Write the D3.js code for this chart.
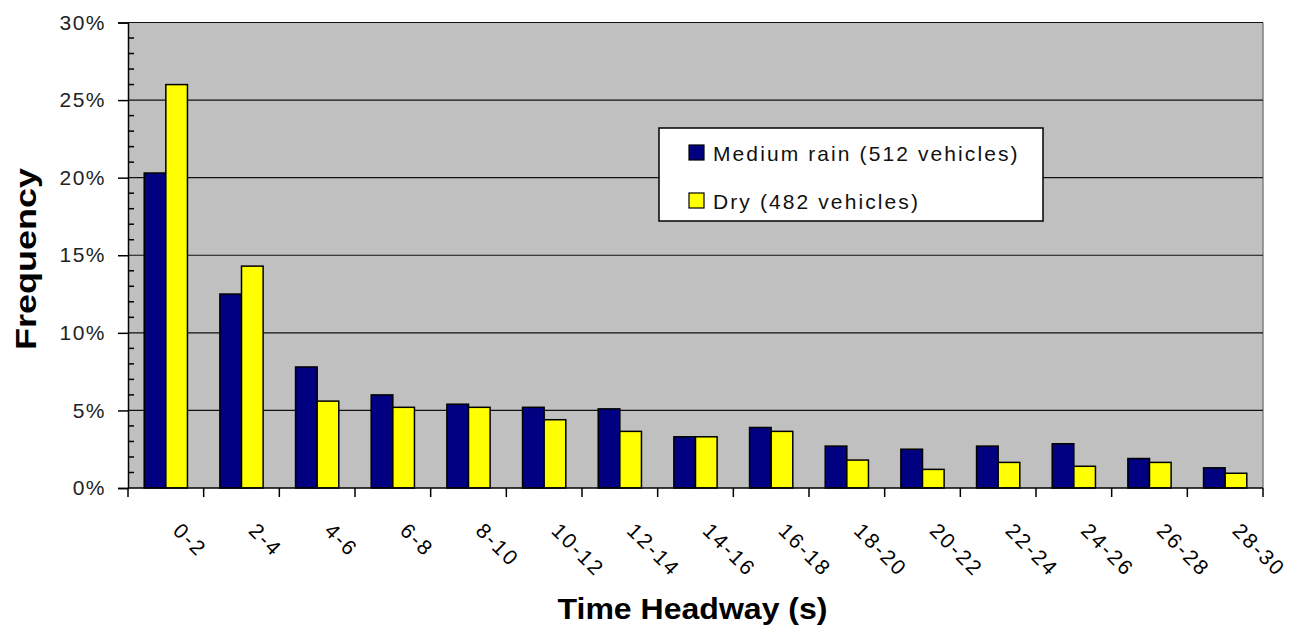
<!DOCTYPE html>
<html lang="en">
<head>
    <meta charset="UTF-8">
    <title>Time Headway Frequency</title>
    <script type="text/javascript" src="https://d3js.org/d3.v7.min.js"></script>
    <style>
        body { margin: 0; background: #fff; }
        text { font-family: "Liberation Sans", Arial, sans-serif; }
    </style>
</head>
<body>

    <svg id="svg" width=1301 height=633></svg>

    <script>
        // data (percent)
        const categories = ["0-2", "2-4", "4-6", "6-8", "8-10", "10-12", "12-14", "14-16",
                            "16-18", "18-20", "20-22", "22-24", "24-26", "26-28", "28-30"];
        const mediumRain = [20.3, 12.5, 7.8, 6.0, 5.4, 5.2, 5.1, 3.3, 3.9, 2.7, 2.5, 2.7, 2.85, 1.9, 1.3];
        const dry        = [26.0, 14.3, 5.6, 5.2, 5.2, 4.4, 3.65, 3.3, 3.65, 1.8, 1.2, 1.65, 1.4, 1.65, 0.95];
        const seriesNames = ["Medium rain (512 vehicles)", "Dry (482 vehicles)"];
        const seriesColors = ["#000080", "#ffff00"];
        const yTicks = [0, 5, 10, 15, 20, 25, 30];

        let svg = d3.select('svg');

        const plotLeft = 128, plotRight = 1263, plotTop = 22.5, plotBottom = 488;

        let x = d3.scaleBand().domain(categories).range([plotLeft, plotRight]);
        let bw = x.bandwidth();
        // gap width 150% of a bar, split on both sides of the pair
        let gap = bw * 0.75 / 3.5;
        let xs = d3.scaleBand().domain([0, 1]).range([gap, bw - gap]);
        let y = d3.scaleLinear().domain([0, 30]).range([plotBottom, plotTop]);

        // plot background
        svg.append('rect')
            .attr('x', plotLeft)
            .attr('y', plotTop)
            .attr('width', plotRight - plotLeft)
            .attr('height', plotBottom - plotTop)
            .attr('fill', '#c0c0c0')
            .attr('stroke', 'none');

        // right border
        svg.append('line')
            .attr('x1', plotRight).attr('x2', plotRight)
            .attr('y1', plotTop).attr('y2', plotBottom)
            .attr('stroke', '#808080')
            .attr('stroke-width', 1.5);

        // gridlines
        svg.append('g')
            .selectAll('line')
            .data(yTicks.filter(d => d > 0))
            .enter()
            .append('line')
            .attr('x1', plotLeft)
            .attr('x2', plotRight)
            .attr('y1', d => y(d))
            .attr('y2', d => y(d))
            .attr('stroke', '#111')
            .attr('stroke-width', 1.2);

        // bars
        const groups = svg.append('g')
            .selectAll('g')
            .data(categories)
            .enter()
            .append('g')
            .attr('transform', d => `translate(${x(d)},0)`);

        groups.selectAll('rect')
            .data((d, i) => [mediumRain[i], dry[i]])
            .enter()
            .append('rect')
            .attr('x', (d, j) => xs(j))
            .attr('width', xs.bandwidth())
            .attr('y', d => y(d))
            .attr('height', d => y(0) - y(d))
            .attr('fill', (d, j) => seriesColors[j])
            .attr('stroke', '#000')
            .attr('stroke-width', 1.5);

        // y axis
        let yAxis = d3.axisLeft(y)
            .tickValues(yTicks)
            .tickSize(10)
            .tickPadding(12)
            .tickFormat(d => d + '%');

        let yg = svg.append('g')
            .attr('transform', `translate(${plotLeft},0)`)
            .call(yAxis);
        yg.select('.domain').attr('stroke', '#000').attr('stroke-width', 1.5);
        yg.selectAll('.tick line').attr('stroke', '#000').attr('stroke-width', 1.5);
        yg.selectAll('.tick text')
            .attr('font-size', 21)
            .attr('letter-spacing', 1.5)
            .attr('fill', '#222')
            .style('font-family', '"Liberation Sans", Arial, sans-serif');

        // minor ticks inside the plot, every 1%
        svg.append('g')
            .selectAll('line')
            .data(d3.range(1, 30).filter(d => d % 5 !== 0))
            .enter()
            .append('line')
            .attr('x1', plotLeft)
            .attr('x2', plotLeft + 6)
            .attr('y1', d => y(d))
            .attr('y2', d => y(d))
            .attr('stroke', '#000')
            .attr('stroke-width', 1.5);

        // x axis
        svg.append('line')
            .attr('x1', plotLeft).attr('x2', plotRight)
            .attr('y1', plotBottom).attr('y2', plotBottom)
            .attr('stroke', '#000')
            .attr('stroke-width', 1.5);

        svg.append('g')
            .selectAll('line')
            .data(categories.concat(['end']))
            .enter()
            .append('line')
            .attr('x1', (d, i) => i < categories.length ? x(d) : plotRight)
            .attr('x2', (d, i) => i < categories.length ? x(d) : plotRight)
            .attr('y1', plotBottom)
            .attr('y2', plotBottom + 9)
            .attr('stroke', '#000')
            .attr('stroke-width', 1.5);

        svg.append('g')
            .selectAll('text')
            .data(categories)
            .enter()
            .append('text')
            .attr('transform', d => `translate(${x(d) + bw / 2 + 6},532) rotate(45)`)
            .attr('font-size', 21)
            .attr('letter-spacing', 2.2)
            .attr('fill', '#000')
            .text(d => d);

        // axis titles
        svg.append('text')
            .attr('x', (plotLeft + plotRight) / 2 - 3)
            .attr('y', 619)
            .attr('text-anchor', 'middle')
            .attr('font-size', 29)
            .attr('font-weight', 'bold')
            .attr('textLength', 270)
            .attr('lengthAdjust', 'spacingAndGlyphs')
            .text('Time Headway (s)');

        svg.append('text')
            .attr('transform', 'translate(36,259) rotate(-90)')
            .attr('text-anchor', 'middle')
            .attr('font-size', 30)
            .attr('font-weight', 'bold')
            .attr('textLength', 182)
            .attr('lengthAdjust', 'spacingAndGlyphs')
            .text('Frequency');

        // legend
        let legend = svg.append('g');
        legend.append('rect')
            .attr('x', 659)
            .attr('y', 128)
            .attr('width', 384)
            .attr('height', 93)
            .attr('fill', '#fff')
            .attr('stroke', '#000')
            .attr('stroke-width', 1.5);

        let items = legend.selectAll('g')
            .data(seriesNames)
            .enter()
            .append('g')
            .attr('transform', (d, i) => `translate(689,${145 + i * 48})`);

        items.append('rect')
            .attr('width', 15)
            .attr('height', 15)
            .attr('fill', (d, i) => seriesColors[i])
            .attr('stroke', '#000')
            .attr('stroke-width', 1.2);

        items.append('text')
            .attr('x', 24)
            .attr('y', 15.5)
            .attr('font-size', 21)
            .attr('letter-spacing', 2.1)
            .attr('fill', '#111')
            .text(d => d);
    </script>

</body>
</html>
